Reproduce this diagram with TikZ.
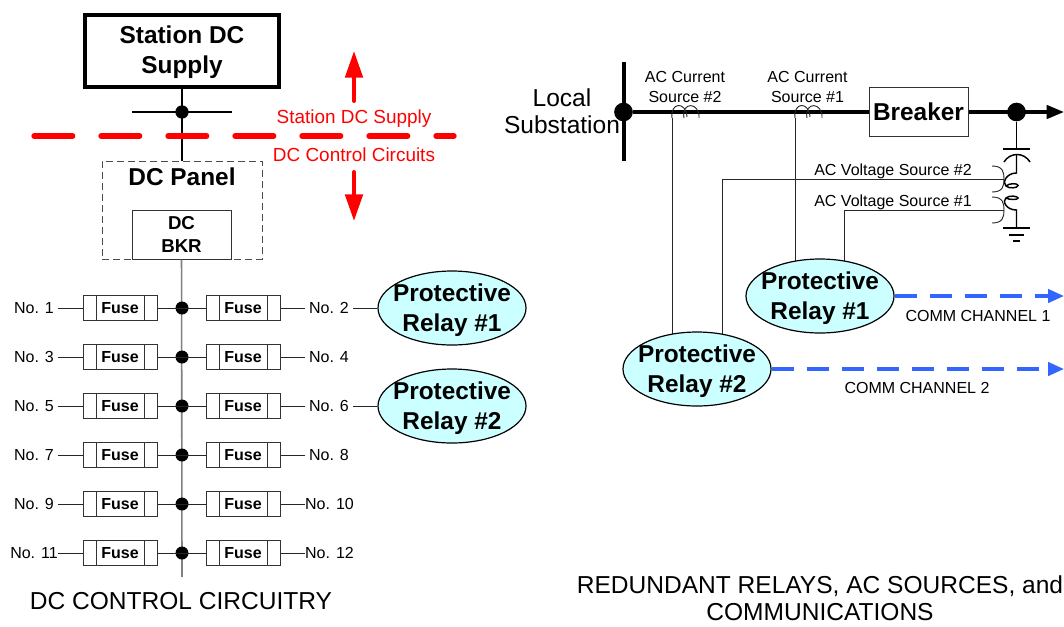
\documentclass[tikz,border=0pt]{standalone}
\usepackage{fontspec}
\setmainfont{Liberation Sans}
\usetikzlibrary{arrows.meta,shapes.geometric}

\definecolor{relayfill}{RGB}{204,255,255}
\definecolor{chanblue}{RGB}{51,102,255}

\tikzset{
	big/.style={font=\fontsize{18.3}{22.5}\selectfont\bfseries, align=center, inner sep=0pt},
	relaytext/.style={big, yshift=-1.7pt},
	caption/.style={font=\fontsize{18.4}{20.5}\selectfont, align=center, inner sep=0pt},
	small/.style={font=\fontsize{12}{15}\selectfont, align=center, inner sep=0pt},
	redtext/.style={font=\fontsize{14.2}{16}\selectfont, text=red, inner sep=0pt},
	box/.style={draw=black!80, line width=.75pt, fill=white, inner sep=0pt},
	fuse/.style={box, minimum width=55.5pt, minimum height=18.5pt, font=\fontsize{12}{14}\selectfont\bfseries,
		path picture={
			\draw[black!80, line width=.75pt] ([xshift=9.75pt]path picture bounding box.north west) -- ([xshift=9.75pt]path picture bounding box.south west);
			\draw[black!80, line width=.75pt] ([xshift=-9.75pt]path picture bounding box.north east) -- ([xshift=-9.75pt]path picture bounding box.south east);
		}},
	num/.style={font=\fontsize{12}{14}\selectfont, minimum width=36pt, inner sep=0pt},
	relay/.style={shape=ellipse, draw=black, line width=.9pt, fill=relayfill, minimum width=111pt, minimum height=55.5pt, inner sep=0pt},
	dot/.style={shape=circle, fill=black, inner sep=0pt, minimum size=9.75pt},
	bigdot/.style={shape=circle, fill=black, inner sep=0pt, minimum size=14pt},
	wire/.style={line width=.7pt, black!85},
	thick wire/.style={line width=2.5pt, black},
	red arrow/.style={line width=3pt, red, line cap=round, -{Triangle[length=20pt,width=13pt]}},
	blue arrow/.style={line width=2.6pt, chanblue, dash pattern=on 16.5pt off 9.75pt, -{Triangle[length=12pt,width=10pt]}}
}

\begin{document}
\begin{tikzpicture}[x=.75pt, y=-.75pt]
	\useasboundingbox (0,0) rectangle (1064,626);

	% DC supply side
	\node[big, draw=black, line width=3pt, minimum width=146pt, minimum height=54pt] (sup) at (182,50.5) {};
	\node[big] (supt) at (182,52.5) {Station DC\\Supply};
	\node[draw=black!70, dash pattern=on 5.25pt off 3pt, line width=.75pt, minimum width=120pt, minimum height=73.5pt, inner sep=0pt] (pan) at (182,210) {};
	\node[big] (pant) at (182,177) {DC Panel};
	\node[box, minimum width=74.25pt, minimum height=36.75pt, align=center, font=\fontsize{14}{17}\selectfont\bfseries] (bkr) at (181.5,234.5) {DC\\BKR};
	\node[dot, minimum size=10pt] (busdot) at (182,112) {};
	\coordinate (busl) at (132,112);
	\coordinate (busr) at (232,112);
	\coordinate (redl) at (34,136);
	\coordinate (redr) at (454,136);
	\coordinate (busend) at (182,577);

	\path [-, line width=2pt] (sup) edge (pan.north);
	\path [-, line width=2pt] (busl) edge (busr);
	\path [-, line width=4pt, red, line cap=round, dash pattern=on 29pt off 21.25pt] (redl) edge (redr);
	\path [-, line width=1.2pt, black!50] (bkr) edge (busend);

	\node[redtext] (redup) at (354,119) {Station DC Supply};
	\node[redtext] (reddn) at (354,155) {DC Control Circuits};
	\coordinate (upa) at (354,101);
	\coordinate (upb) at (354,51);
	\coordinate (dna) at (354,172);
	\coordinate (dnb) at (354,221);
	\path [red arrow] (upa) edge (upb);
	\path [red arrow] (dna) edge (dnb);

	% fuses
	\node[dot] (d1) at (182,308) {};
	\node[dot] (d2) at (182,357) {};
	\node[dot] (d3) at (182,406) {};
	\node[dot] (d4) at (182,455) {};
	\node[dot] (d5) at (182,504) {};
	\node[dot] (d6) at (182,553) {};

	\node[fuse] (f1) at (120,308) {Fuse};
	\node[fuse] (f2) at (243,308) {Fuse};
	\node[fuse] (f3) at (120,357) {Fuse};
	\node[fuse] (f4) at (243,357) {Fuse};
	\node[fuse] (f5) at (120,406) {Fuse};
	\node[fuse] (f6) at (243,406) {Fuse};
	\node[fuse] (f7) at (120,455) {Fuse};
	\node[fuse] (f8) at (243,455) {Fuse};
	\node[fuse] (f9) at (120,504) {Fuse};
	\node[fuse] (f10) at (243,504) {Fuse};
	\node[fuse] (f11) at (120,553) {Fuse};
	\node[fuse] (f12) at (243,553) {Fuse};

	\node[num] (n1) at (34,308) {No. 1};
	\node[num] (n2) at (329,308) {No. 2};
	\node[num] (n3) at (34,357) {No. 3};
	\node[num] (n4) at (329,357) {No. 4};
	\node[num] (n5) at (34,406) {No. 5};
	\node[num] (n6) at (329,406) {No. 6};
	\node[num] (n7) at (34,455) {No. 7};
	\node[num] (n8) at (329,455) {No. 8};
	\node[num] (n9) at (34,504) {No. 9};
	\node[num] (n10) at (329.5,504) {No. 10};
	\node[num] (n11) at (34,553) {No. 11};
	\node[num] (n12) at (329.5,553) {No. 12};

	\node[relay, label={[relaytext]center:{Protective\\Relay \#1}}] (rl1) at (452,308) {};
	\node[relay, label={[relaytext]center:{Protective\\Relay \#2}}] (rl2) at (452,406) {};

	\path [-, wire] (n1.east |- d1) edge (f1);
	\path [-, wire] (f1) edge (f2);
	\path [-, wire] (f2) edge (n2.west |- f2);
	\path [-, wire] (n2.east |- rl1) edge (rl1);
	\path [-, wire] (n3.east |- d2) edge (f3);
	\path [-, wire] (f3) edge (f4);
	\path [-, wire] (f4) edge (n4.west |- f4);
	\path [-, wire] (n5.east |- d3) edge (f5);
	\path [-, wire] (f5) edge (f6);
	\path [-, wire] (f6) edge (n6.west |- f6);
	\path [-, wire] (n6.east |- rl2) edge (rl2);
	\path [-, wire] (n7.east |- d4) edge (f7);
	\path [-, wire] (f7) edge (f8);
	\path [-, wire] (f8) edge (n8.west |- f8);
	\path [-, wire] (n9.east |- d5) edge (f9);
	\path [-, wire] (f9) edge (f10);
	\path [-, wire] (f10) edge (n10.west |- f10);
	\path [-, wire] (n11.east |- d6) edge (f11);
	\path [-, wire] (f11) edge (f12);
	\path [-, wire] (f12) edge (n12.west |- f12);

	\node[caption] (capdc) at (181,601) {DC CONTROL CIRCUITRY};

	% line side
	\node[caption] (sub) at (562,111) {Local\\Substation};
	\coordinate (vbt) at (623.5,62);
	\coordinate (vbb) at (623.5,161);
	\node[bigdot] (ldot) at (623.5,112) {};
	\node[box, minimum width=74.25pt, minimum height=36.75pt, font=\fontsize{18.3}{22}\selectfont\bfseries] (brk) at (918.5,111.5) {Breaker};
	\node[bigdot] (rdot) at (1016.5,112) {};
	\coordinate (lineend) at (1064,112);
	\path [-, line width=3pt] (vbt) edge (vbb);
	\path [-, thick wire] (ldot) edge (brk.west |- ldot);
	\path [-{Triangle[length=13pt,width=10pt]}, thick wire] (brk.east |- lineend) edge (lineend);

	\node[small] (cs2) at (685,86.5) {AC Current\\Source \#2};
	\node[small] (cs1) at (807.5,86.5) {AC Current\\Source \#1};
	\node[small] (vs2) at (893,171.5) {AC Voltage Source \#2};
	\node[small] (vs1) at (893,202) {AC Voltage Source \#1};

	% current coils
	\draw[wire] (672,118) .. controls (670,102) and (686,101) .. (687,117);
	\draw[wire] (684,118) .. controls (681,101) and (700,102) .. (699,118);
	\draw[wire] (795,118) .. controls (793,102) and (809,101) .. (810,117);
	\draw[wire] (807,118) .. controls (804,101) and (823,102) .. (822,118);

	% voltage transformer
	\coordinate (capt) at (1016.5,149);
	\coordinate (capl) at (1003,149);
	\coordinate (capr) at (1029.5,149);
	\coordinate (gndt) at (1016.5,228);
	\coordinate (gl1) at (1003,228);
	\coordinate (gr1) at (1029.5,228);
	\coordinate (gl2) at (1009,235);
	\coordinate (gr2) at (1024,235);
	\coordinate (gl3) at (1013,241);
	\coordinate (gr3) at (1020,241);
	\path [-, line width=1.3pt] (rdot) edge (capt);
	\path [-, line width=1.3pt] (capl) edge (capr);
	\path [-, line width=1.3pt] (gl1) edge (gr1);
	\path [-, line width=1.3pt] (gl2) edge (gr2);
	\path [-, line width=1.3pt] (gl3) edge (gr3);
	\draw[line width=1.1pt] (1004,162) .. controls (1010,152) and (1024,152) .. (1030,162);
	\draw[line width=1.1pt] (1016.5,155) -- (1016.5,173) .. controls (1006,173) and (1002,183) .. (1006,186) .. controls (1009,189) and (1018,188) .. (1018,185.5) .. controls (1018,183) and (1009,183) .. (1006,186);
	\draw[line width=1.1pt] (1016.5,228) -- (1016.5,210) .. controls (1006,210) and (1002,201) .. (1006,198) .. controls (1009,195) and (1018,196) .. (1018,198) .. controls (1018,200) and (1009,200) .. (1006,198);
	\draw[wire] (992,166) .. controls (1003,166) and (1004,172) .. (1004,179) .. controls (1004,186) and (1003,192) .. (992,192);
	\draw[wire] (992,197) .. controls (1003,197) and (1004,203) .. (1004,210) .. controls (1004,217) and (1003,223) .. (992,223);

	% relays and channels
	\coordinate (ctb) at (672,118);
	\coordinate (cta) at (795,118);
	\coordinate (vtb) at (1004,179);
	\coordinate (vta) at (1004,210);
	\coordinate (vtbc) at (722,179);
	\coordinate (vtac) at (844,210);
	\coordinate (ctbe) at (672,338);
	\coordinate (ctae) at (795,265);
	\coordinate (vtbe) at (722,338);
	\coordinate (vtae) at (844,265);
	\path [-, wire] (ctb) edge (ctbe);
	\path [-, wire] (cta) edge (ctae);
	\draw[wire] (vtb) -- (vtbc) -- (vtbe);
	\draw[wire] (vta) -- (vtac) -- (vtae);

	\node[relay, label={[relaytext]center:{Protective\\Relay \#1}}] (rl3) at (820,296) {};
	\node[relay, label={[relaytext]center:{Protective\\Relay \#2}}] (rl4) at (697,369) {};
	\coordinate (ch1) at (1064,296);
	\coordinate (ch2) at (1064,369);
	\path [blue arrow] (rl3) edge (ch1);
	\path [blue arrow] (rl4) edge (ch2);
	\node[small] (cc1) at (978,316) {COMM CHANNEL 1};
	\node[small] (cc2) at (917,388) {COMM CHANNEL 2};

	\node[caption] (capbt) at (820,598) {REDUNDANT RELAYS, AC SOURCES, and\\COMMUNICATIONS};
\end{tikzpicture}
\end{document}
